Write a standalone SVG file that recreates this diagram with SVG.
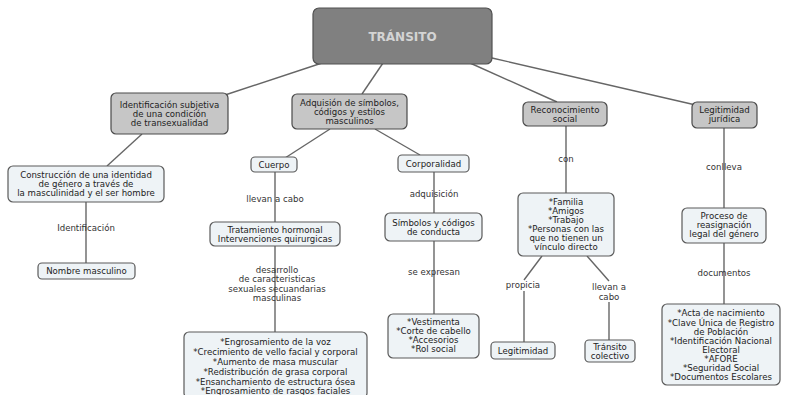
<svg xmlns="http://www.w3.org/2000/svg" width="785" height="395" viewBox="0 0 785 395">
<style>
.n1{fill:#c6c6c6;stroke:#4a4a4a;stroke-width:1.2}
.n2{fill:#eef3f6;stroke:#5a5a5a;stroke-width:1.2}
.t{font-family:"DejaVu Sans",Verdana,sans-serif;font-size:8.6px;fill:#222;text-anchor:middle;dominant-baseline:central}
.l{font-family:"DejaVu Sans",Verdana,sans-serif;font-size:8.6px;fill:#333;text-anchor:middle;dominant-baseline:central}
.c line,.c polyline{stroke:#666;stroke-width:1.4;fill:none}
</style>
<rect width="785" height="395" fill="#fff"/>
<g class="c" id="connectors">
<line x1="322" y1="63" x2="225" y2="95"/>
<line x1="383" y1="63" x2="362" y2="94"/>
<line x1="470" y1="63" x2="557" y2="102"/>
<line x1="492" y1="58" x2="700" y2="106"/>
<line x1="142" y1="134" x2="107" y2="166"/>
<line x1="86" y1="202" x2="86" y2="263"/>
<line x1="330" y1="129" x2="285" y2="158"/>
<line x1="375" y1="129" x2="420" y2="155"/>
<line x1="275" y1="172" x2="275" y2="222"/>
<line x1="275" y1="246" x2="275" y2="332"/>
<line x1="434" y1="172" x2="434" y2="213"/>
<line x1="434" y1="241" x2="434" y2="314"/>
<line x1="566" y1="126" x2="566" y2="193"/>
<polyline points="542,256 524,280"/>
<line x1="524" y1="291" x2="524" y2="342"/>
<polyline points="587,256 609,281"/>
<line x1="609" y1="302" x2="609" y2="340"/>
<line x1="724" y1="128" x2="724" y2="208"/>
<line x1="724" y1="243" x2="724" y2="304"/>
</g>
<g id="labels">
<text class="l" x="86" y="228">Identificación</text>
<text class="l" x="275" y="199">llevan a cabo</text>
<text class="l" x="277" y="269.5">desarrollo</text>
<text class="l" x="277" y="279">de caracteristicas</text>
<text class="l" x="277" y="288.5">sexuales secuandarias</text>
<text class="l" x="277" y="298">masculinas</text>
<text class="l" x="434" y="194">adquisición</text>
<text class="l" x="434" y="272">se expresan</text>
<text class="l" x="566" y="159">con</text>
<text class="l" x="523" y="285">propicia</text>
<text class="l" x="609" y="287">llevan a</text>
<text class="l" x="609" y="297">cabo</text>
<text class="l" x="724" y="167">conlleva</text>
<text class="l" x="724" y="273">documentos</text>
</g>
<g id="transito">
<rect x="313" y="8" width="179" height="56" rx="6" fill="#808080" stroke="#505050" stroke-width="1.2"/>
<text x="402.5" y="37" font-family="DejaVu Sans,Verdana,sans-serif" font-size="12" font-weight="bold" fill="#d4d4d4" text-anchor="middle" dominant-baseline="central">TRÁNSITO</text>
</g>
<g id="identificacion">
<rect class="n1" x="111" y="93" width="117" height="41" rx="5"/>
<text class="t" x="169.5" y="104.5">Identificación subjetiva</text>
<text class="t" x="169.5" y="113.5">de una condición</text>
<text class="t" x="169.5" y="122.5">de transexualidad</text>
</g>
<g id="adquisicion">
<rect class="n1" x="292" y="94" width="115" height="35" rx="5"/>
<text class="t" x="349.5" y="103">Adquisión de símbolos,</text>
<text class="t" x="349.5" y="112">códigos y estilos</text>
<text class="t" x="349.5" y="121">masculinos</text>
</g>
<g id="reconocimiento">
<rect class="n1" x="523" y="102" width="84" height="24" rx="5"/>
<text class="t" x="565" y="109.5">Reconocimiento</text>
<text class="t" x="565" y="118.5">social</text>
</g>
<g id="legitimidad-juridica">
<rect class="n1" x="692" y="102" width="65" height="26" rx="5"/>
<text class="t" x="724.5" y="110">Legitimidad</text>
<text class="t" x="724.5" y="119">jurídica</text>
</g>
<g id="cuerpo">
<rect class="n2" x="251" y="157" width="46" height="15" rx="4"/>
<text class="t" x="274" y="164.5">Cuerpo</text>
</g>
<g id="corporalidad">
<rect class="n2" x="398" y="155" width="71" height="17" rx="4"/>
<text class="t" x="433.5" y="163.5">Corporalidad</text>
</g>
<g id="construccion">
<rect class="n2" x="8" y="166" width="156" height="36" rx="5"/>
<text class="t" x="86" y="175">Construcción de una identidad</text>
<text class="t" x="86" y="184">de género a través de</text>
<text class="t" x="86" y="193">la masculinidad y el ser hombre</text>
</g>
<g id="nombre">
<rect class="n2" x="38" y="263" width="97" height="16" rx="4"/>
<text class="t" x="86.5" y="271">Nombre masculino</text>
</g>
<g id="tratamiento">
<rect class="n2" x="210" y="222" width="130" height="24" rx="5"/>
<text class="t" x="275" y="229.5">Tratamiento hormonal</text>
<text class="t" x="275" y="238.5">Intervenciones quirurgicas</text>
</g>
<g id="simbolos">
<rect class="n2" x="385" y="213" width="97" height="28" rx="5"/>
<text class="t" x="433.5" y="222.5">Símbolos y códigos</text>
<text class="t" x="433.5" y="231.5">de conducta</text>
</g>
<g id="caracteristicas">
<rect class="n2" x="184" y="332" width="183" height="66" rx="5"/>
<text class="t" x="275.5" y="342">*Engrosamiento de la voz</text>
<text class="t" x="275.5" y="352">*Crecimiento de vello facial y corporal</text>
<text class="t" x="275.5" y="362">*Aumento de masa muscular</text>
<text class="t" x="275.5" y="372">*Redistribución de grasa corporal</text>
<text class="t" x="275.5" y="381.5">*Ensanchamiento de estructura ósea</text>
<text class="t" x="275.5" y="390.5">*Engrosamiento de rasgos faciales</text>
</g>
<g id="vestimenta">
<rect class="n2" x="388" y="314" width="91" height="44" rx="5"/>
<text class="t" x="433.5" y="322">*Vestimenta</text>
<text class="t" x="433.5" y="331">*Corte de cabello</text>
<text class="t" x="433.5" y="340">*Accesorios</text>
<text class="t" x="433.5" y="349">*Rol social</text>
</g>
<g id="familia">
<rect class="n2" x="518" y="193" width="96" height="63" rx="5"/>
<text class="t" x="566" y="202">*Familia</text>
<text class="t" x="566" y="211">*Amigos</text>
<text class="t" x="566" y="220">*Trabajo</text>
<text class="t" x="566" y="229">*Personas con las</text>
<text class="t" x="566" y="238">que no tienen un</text>
<text class="t" x="566" y="247">vínculo directo</text>
</g>
<g id="legitimidad">
<rect class="n2" x="491" y="342" width="64" height="17" rx="4"/>
<text class="t" x="523" y="350.5">Legitimidad</text>
</g>
<g id="transito-colectivo">
<rect class="n2" x="585" y="340" width="50" height="22" rx="4"/>
<text class="t" x="610" y="347">Tránsito</text>
<text class="t" x="610" y="356">colectivo</text>
</g>
<g id="proceso">
<rect class="n2" x="682" y="208" width="84" height="35" rx="5"/>
<text class="t" x="724" y="216">Proceso de</text>
<text class="t" x="724" y="225">reasignación</text>
<text class="t" x="724" y="234">legal del género</text>
</g>
<g id="documentos">
<rect class="n2" x="662" y="304" width="118" height="81" rx="5"/>
<text class="t" x="721" y="313">*Acta de nacimiento</text>
<text class="t" x="721" y="322.5">*Clave Única de Registro</text>
<text class="t" x="721" y="331.5">de Población</text>
<text class="t" x="721" y="340.5">*Identificación Nacional</text>
<text class="t" x="721" y="349.5">Electoral</text>
<text class="t" x="721" y="358.5">*AFORE</text>
<text class="t" x="721" y="367.5">*Seguridad Social</text>
<text class="t" x="721" y="376.5">*Documentos Escolares</text>
</g>
</svg>
